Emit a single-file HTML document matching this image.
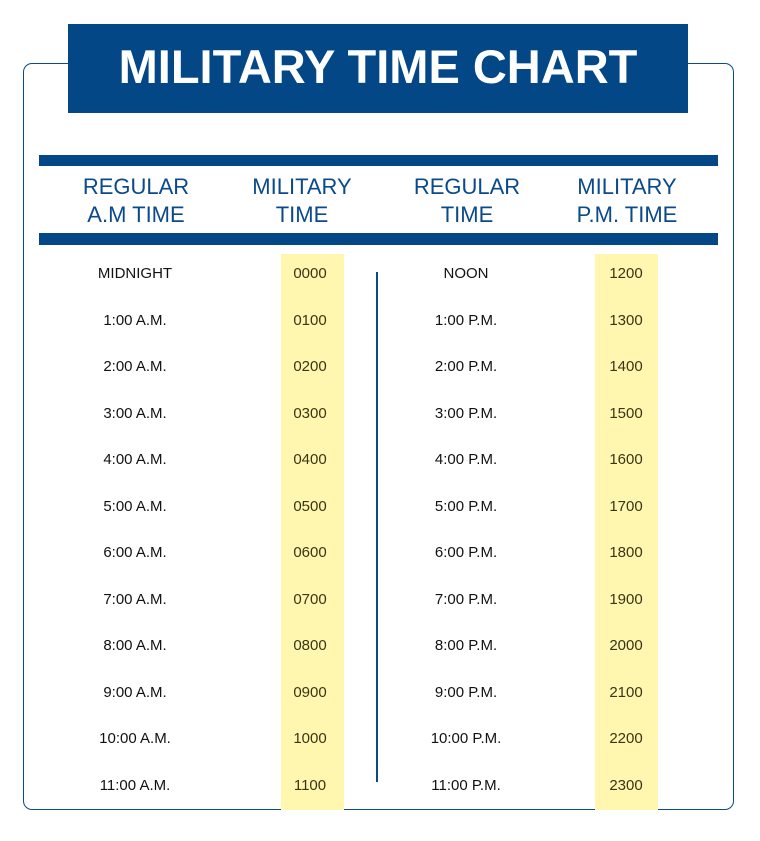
<!DOCTYPE html>
<html><head><style>
body{margin:0;width:760px;height:841px;background:#fff;position:relative;overflow:hidden;font-family:"Liberation Sans",sans-serif}
.a{position:absolute}
.box{left:23px;top:63px;width:709px;height:745px;border:1.5px solid #0b4a8a;border-radius:9px}
.title{left:68px;top:24px;width:620px;height:89px;background:#034787;color:#fff;font-weight:bold;font-size:47px;text-align:center;line-height:86px}
.bar{left:39px;width:679px;background:#034787}
.h{color:#0b4a8a;font-size:22px;line-height:28px;text-align:center;width:160px;top:173px}
.y{background:#fff6b0;top:254px;height:556px;width:63px}
.c{font-size:15px;text-align:center;width:160px;color:#111}
.n{color:#3a3513}
</style></head><body>
<div class="a box"></div>
<div class="a title">MILITARY TIME CHART</div>
<div class="a bar" style="top:155px;height:11px"></div>
<div class="a bar" style="top:233px;height:12px"></div>
<div class="a h" style="left:56px">REGULAR<br>A.M TIME</div>
<div class="a h" style="left:222px">MILITARY<br>TIME</div>
<div class="a h" style="left:387px">REGULAR<br>TIME</div>
<div class="a h" style="left:547px">MILITARY<br>P.M. TIME</div>
<div class="a y" style="left:281px"></div>
<div class="a y" style="left:595px"></div>
<div class="a" style="left:376px;top:272px;width:2px;height:510px;background:#0b4a8a"></div>
<div id="rows"></div>
<script>
var am=["MIDNIGHT","1:00 A.M.","2:00 A.M.","3:00 A.M.","4:00 A.M.","5:00 A.M.","6:00 A.M.","7:00 A.M.","8:00 A.M.","9:00 A.M.","10:00 A.M.","11:00 A.M."];
var pm=["NOON","1:00 P.M.","2:00 P.M.","3:00 P.M.","4:00 P.M.","5:00 P.M.","6:00 P.M.","7:00 P.M.","8:00 P.M.","9:00 P.M.","10:00 P.M.","11:00 P.M."];
var h="";
for(var i=0;i<12;i++){var t=274+i*46.5-9;
var m1=("0"+i).slice(-2)+"00",m2=(12+i)+"00";
h+='<div class="a c" style="left:55px;top:'+t+'px">'+am[i]+'</div>';
h+='<div class="a c n" style="left:230px;top:'+t+'px">'+m1+'</div>';
h+='<div class="a c" style="left:386px;top:'+t+'px">'+pm[i]+'</div>';
h+='<div class="a c n" style="left:546px;top:'+t+'px">'+m2+'</div>';}
document.getElementById("rows").innerHTML=h;
</script>
</body></html>
